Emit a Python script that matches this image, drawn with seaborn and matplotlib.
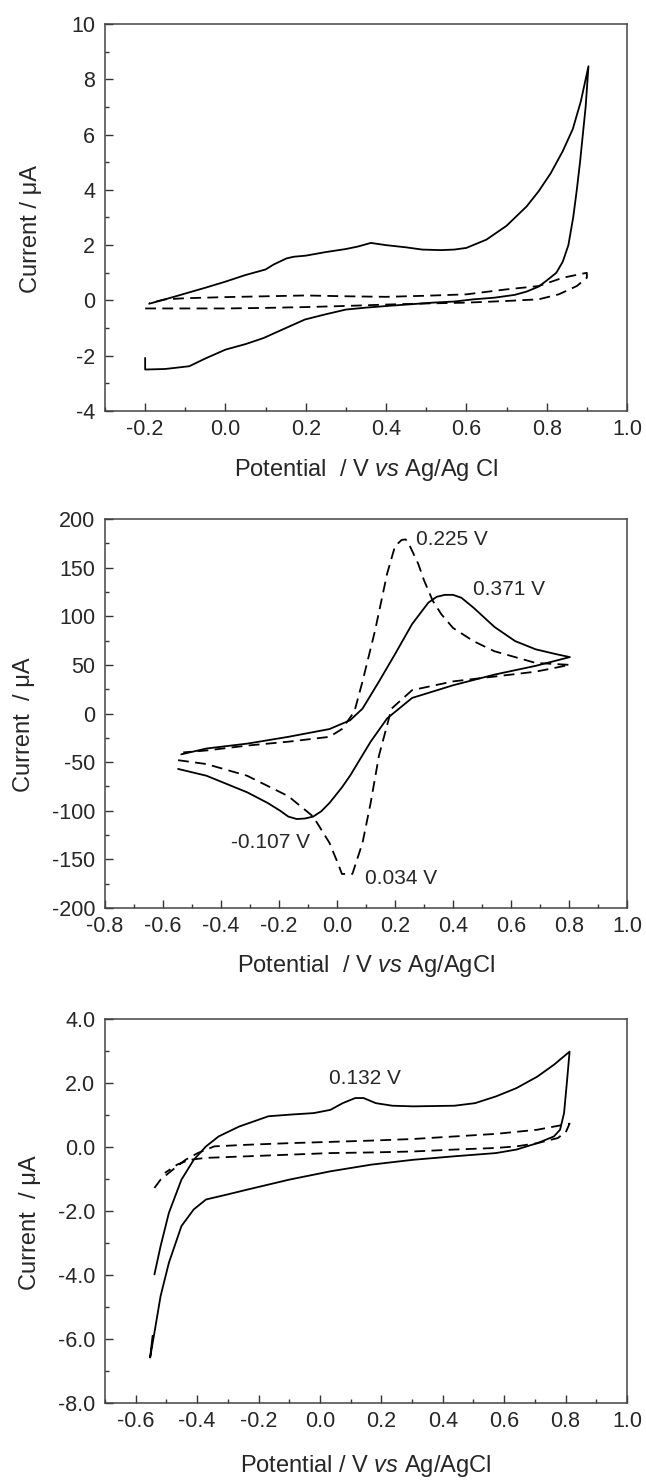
import matplotlib
matplotlib.use('Agg')
import matplotlib.pyplot as plt
import seaborn as sns
from matplotlib.ticker import MultipleLocator, FormatStrFormatter

# panel 1 - solid loop
p1_solid_x = [-0.20, -0.20, -0.15, -0.09, -0.05, 0.00, 0.05, 0.095, 0.15, 0.198, 0.25, 0.30, 0.35, 0.403,
              0.46, 0.516, 0.57, 0.618, 0.67, 0.72, 0.75, 0.78, 0.80, 0.824, 0.84, 0.854, 0.866, 0.875,
              0.883, 0.89, 0.897, 0.904,
              0.897, 0.885, 0.865, 0.84, 0.81, 0.78, 0.75, 0.70, 0.65, 0.60, 0.57, 0.536, 0.49, 0.45, 0.40,
              0.362, 0.33, 0.30, 0.25, 0.20, 0.17, 0.152, 0.12, 0.10, 0.05, 0.00, -0.05, -0.10, -0.15, -0.19]
p1_solid_y = [-2.08, -2.50, -2.48, -2.38, -2.10, -1.78, -1.58, -1.36, -1.00, -0.69, -0.50, -0.33, -0.26, -0.20,
              -0.14, -0.08, -0.04, 0.04, 0.10, 0.20, 0.32, 0.50, 0.72, 1.00, 1.40, 2.00, 3.00, 4.00,
              5.00, 6.00, 7.00, 8.47,
              8.00, 7.20, 6.20, 5.40, 4.60, 3.95, 3.40, 2.70, 2.20, 1.90, 1.84, 1.82, 1.84, 1.92, 2.00,
              2.08, 1.95, 1.86, 1.75, 1.62, 1.58, 1.52, 1.30, 1.12, 0.92, 0.68, 0.46, 0.25, 0.04, -0.12]
# panel 1 - dashed loop
p1_dash_x = [-0.20, -0.10, 0.00, 0.10, 0.20, 0.30, 0.40, 0.50, 0.60, 0.70, 0.78, 0.83, 0.875, 0.90,
             0.90, 0.84, 0.78, 0.70, 0.60, 0.50, 0.40, 0.30, 0.20, 0.10, 0.00, -0.10, -0.15, -0.19]
p1_dash_y = [-0.29, -0.29, -0.29, -0.27, -0.24, -0.20, -0.15, -0.11, -0.08, -0.02, 0.04, 0.22, 0.52, 0.82,
             1.00, 0.82, 0.52, 0.40, 0.22, 0.17, 0.13, 0.15, 0.18, 0.15, 0.12, 0.08, 0.04, -0.10]

# panel 2 - solid loop
p2_solid_x = [-0.548, -0.45, -0.31, -0.239, -0.196, -0.168, -0.139, -0.111, -0.082, -0.054, -0.026, 0.017,
              0.045, 0.116, 0.173, 0.259, 0.40, 0.543, 0.685, 0.803,
              0.756, 0.685, 0.614, 0.543, 0.47, 0.429, 0.40, 0.372, 0.344, 0.315, 0.259, 0.20, 0.145, 0.088,
              0.045, -0.026, -0.168, -0.31, -0.45, -0.537]
p2_solid_y = [-57, -64, -81, -92, -100, -106, -108.5, -108, -106, -100.5, -92, -76,
              -64, -29, -5, 16, 29, 40, 49, 58,
              61, 66, 74.5, 89, 109, 119, 122, 122, 120, 114, 92, 61, 33, 5,
              -7, -16, -24, -31, -36, -42]
# panel 2 - dashed loop
p2_dash_x = [-0.548, -0.45, -0.31, -0.168, -0.082, -0.026, 0.003, 0.017, 0.053, 0.088, 0.116, 0.145,
             0.188, 0.259, 0.40, 0.543, 0.685, 0.803, 0.685, 0.543, 0.47, 0.40, 0.36, 0.33, 0.30, 0.28,
             0.25, 0.237, 0.223, 0.20, 0.173, 0.131, 0.088, 0.06, 0.017, -0.026, -0.168, -0.31, -0.45, -0.53]
p2_dash_y = [-48, -52, -64, -85, -106, -133, -154, -165, -165, -133, -92, -43,
             5, 24, 33, 38, 43, 50, 52, 64, 74.5, 88, 102, 116, 137, 154,
             173, 179, 178.5, 172, 144, 85, 33, 2, -16, -24, -29, -33, -38, -40]

# panel 3 - solid loop
p3_solid_x = [-0.545, -0.553, -0.539, -0.519, -0.492, -0.451, -0.411, -0.371, -0.30, -0.236, -0.10,
              0.034, 0.168, 0.303, 0.438, 0.573, 0.64, 0.708, 0.762, 0.782, 0.795, 0.805, 0.813,
              0.762, 0.708, 0.64, 0.573, 0.505, 0.438, 0.303, 0.236, 0.182, 0.142, 0.115, 0.074,
              0.034, -0.02, -0.10, -0.168, -0.263, -0.33, -0.371, -0.411, -0.451, -0.492, -0.519, -0.539]
p3_solid_y = [-5.90, -6.58, -5.80, -4.66, -3.62, -2.47, -1.95, -1.64, -1.48, -1.33, -1.02,
              -0.76, -0.55, -0.40, -0.29, -0.19, -0.08, 0.12, 0.33, 0.54, 1.06, 2.10, 2.98,
              2.57, 2.20, 1.84, 1.58, 1.37, 1.29, 1.27, 1.29, 1.37, 1.53, 1.53, 1.37,
              1.16, 1.06, 1.01, 0.96, 0.64, 0.33, 0.02, -0.40, -1.02, -2.06, -3.10, -3.98]
# panel 3 - dashed loop
p3_dash_x = [-0.539, -0.519, -0.478, -0.438, -0.398, -0.344, -0.236, -0.10, 0.034, 0.168, 0.303,
             0.438, 0.573, 0.708, 0.813, 0.802, 0.775, 0.708, 0.64, 0.573, 0.438, 0.303, 0.168,
             0.034, -0.10, -0.236, -0.371, -0.425, -0.465, -0.505]
p3_dash_y = [-1.28, -1.02, -0.70, -0.40, -0.19, 0.02, 0.07, 0.12, 0.16, 0.20, 0.25,
             0.33, 0.41, 0.54, 0.73, 0.49, 0.28, 0.12, 0.02, -0.03, -0.08, -0.14, -0.17,
             -0.19, -0.24, -0.29, -0.34, -0.40, -0.55, -0.81]

p2_notes = [('0.225 V', 0.273, 179), ('0.371 V', 0.47, 128), ('-0.107 V', -0.366, -133), ('0.034 V', 0.095, -170)]
p3_notes = [('0.132 V', 0.148, 2.15)]

sns.set_theme(style='ticks')
plt.rcParams['font.family'] = ['Liberation Sans', 'DejaVu Sans']
plt.rcParams['mathtext.fontset'] = 'custom'
plt.rcParams['mathtext.rm'] = 'Liberation Sans'
plt.rcParams['mathtext.it'] = 'Liberation Sans:italic'
plt.rcParams['axes.unicode_minus'] = False

fig = plt.figure(figsize=(6.46, 14.81), dpi=100)
W, H = 646, 1481

def make_ax(top, bottom):
    return fig.add_axes([105 / W, 1 - bottom / H, 522 / W, (bottom - top) / H])

ax1 = make_ax(24, 411)
ax2 = make_ax(519, 908)
ax3 = make_ax(1019, 1403)

panels = [
    (ax1, p1_solid_x, p1_solid_y, p1_dash_x, p1_dash_y),
    (ax2, p2_solid_x, p2_solid_y, p2_dash_x, p2_dash_y),
    (ax3, p3_solid_x, p3_solid_y, p3_dash_x, p3_dash_y),
]
for ax, sx, sy, dx, dy in panels:
    sns.lineplot(x=sx, y=sy, sort=False, estimator=None, color='black', lw=1.3, ax=ax)
    sns.lineplot(x=dx, y=dy, sort=False, estimator=None, color='black', lw=1.3,
                 linestyle=(0, (6, 3.5)), ax=ax)
    for s in ax.spines.values():
        s.set_visible(True)
        s.set_color('#444444')
        s.set_linewidth(1.1)
    ax.tick_params(which='both', direction='in', top=False, right=False, labelsize=15.5,
                   color='#333333', width=1.0)
    ax.tick_params(which='major', length=5.5)
    ax.tick_params(which='minor', length=3)
    ax.tick_params(axis='y', which='major', pad=7)
    ax.tick_params(axis='x', which='major', pad=6)

# panel 1 axes
ax1.set_xlim(-0.3, 1.0)
ax1.set_ylim(-4, 10)
ax1.set_xticks([-0.2, 0.0, 0.2, 0.4, 0.6, 0.8, 1.0])
ax1.xaxis.set_minor_locator(MultipleLocator(0.1))
ax1.yaxis.set_major_locator(MultipleLocator(2))
ax1.yaxis.set_minor_locator(MultipleLocator(1))
ax1.xaxis.set_major_formatter(FormatStrFormatter('%.1f'))
ax1.set_xlabel('Potential  / V $\\mathit{vs}$ Ag/Ag Cl', fontsize=17)
ax1.set_ylabel('Current / μA', fontsize=17)
ax1.xaxis.set_label_coords(0.5, -0.12)
ax1.yaxis.set_label_coords(-0.12, 0.47)

# panel 2 axes
ax2.set_xlim(-0.8, 1.0)
ax2.set_ylim(-200, 200)
ax2.xaxis.set_major_locator(MultipleLocator(0.2))
ax2.xaxis.set_minor_locator(MultipleLocator(0.1))
ax2.yaxis.set_major_locator(MultipleLocator(50))
ax2.yaxis.set_minor_locator(MultipleLocator(25))
ax2.xaxis.set_major_formatter(FormatStrFormatter('%.1f'))
ax2.set_xlabel('Potential  / V $\\mathit{vs}$ Ag/AgCl', fontsize=17)
ax2.set_ylabel('Current  / μA', fontsize=17)
ax2.xaxis.set_label_coords(0.5, -0.115)
ax2.yaxis.set_label_coords(-0.135, 0.47)
for txt, x, y in p2_notes:
    ax2.text(x, y, txt, fontsize=15, ha='left', va='center')

# panel 3 axes
ax3.set_xlim(-0.7, 1.0)
ax3.set_ylim(-8, 4)
ax3.set_xticks([-0.6, -0.4, -0.2, 0.0, 0.2, 0.4, 0.6, 0.8, 1.0])
ax3.xaxis.set_minor_locator(MultipleLocator(0.1))
ax3.yaxis.set_major_locator(MultipleLocator(2))
ax3.yaxis.set_minor_locator(MultipleLocator(1))
ax3.xaxis.set_major_formatter(FormatStrFormatter('%.1f'))
ax3.yaxis.set_major_formatter(FormatStrFormatter('%.1f'))
ax3.set_xlabel('Potential / V $\\mathit{vs}$ Ag/AgCl', fontsize=17)
ax3.set_ylabel('Current  / μA', fontsize=17)
ax3.xaxis.set_label_coords(0.5, -0.13)
ax3.yaxis.set_label_coords(-0.123, 0.47)
for txt, x, y in p3_notes:
    ax3.text(x, y, txt, fontsize=15, ha='center', va='center')

fig.savefig('out.png', dpi=100)
